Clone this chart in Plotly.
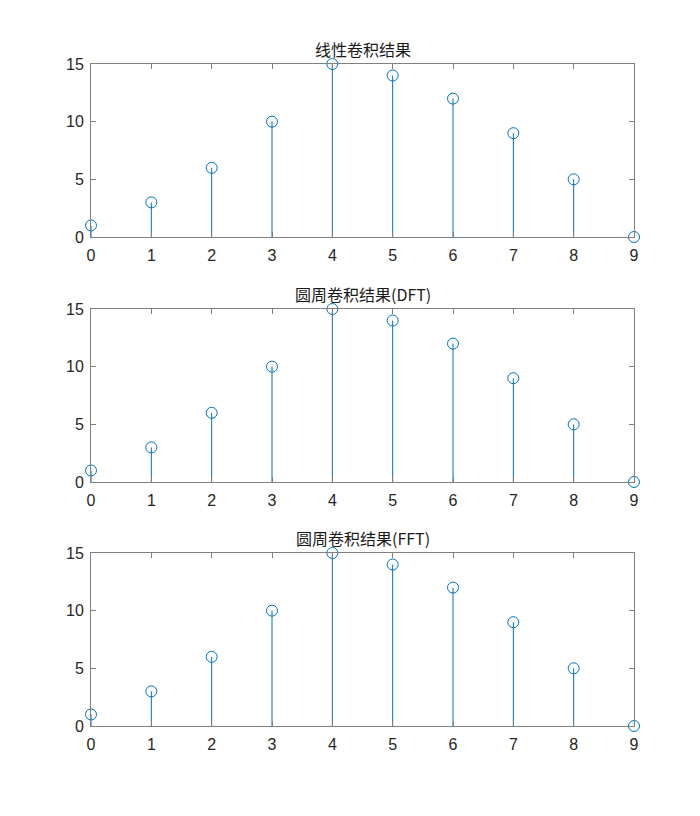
import plotly.graph_objects as go

n = [0, 1, 2, 3, 4, 5, 6, 7, 8, 9]
linear_conv = [1, 3, 6, 10, 15, 14, 12, 9, 5, 0]
circ_dft = [1, 3, 6, 10, 15, 14, 12, 9, 5, 0]
circ_fft = [1, 3, 6, 10, 15, 14, 12, 9, 5, 0]
titles = ["线性卷积结果", "圆周卷积结果(DFT)", "圆周卷积结果(FFT)"]
y_ticks = [0, 5, 10, 15]

W, H = 700, 816
xl, xr = 91, 634
rows = [(64, 237), (309, 482), (553, 726)]
color = "#0072BD"

fig = go.Figure()
series = [linear_conv, circ_dft, circ_fft]
for i, (vals, (top, bot)) in enumerate(zip(series, rows)):
    ax = "" if i == 0 else str(i + 1)
    sx, sy = [], []
    for xv, yv in zip(n, vals):
        sx += [xv, xv, None]
        sy += [0, yv, None]
    fig.add_trace(go.Scatter(x=sx, y=sy, mode="lines", line=dict(color=color, width=1),
                             xaxis="x" + ax, yaxis="y" + ax, showlegend=False, hoverinfo="skip",
                             cliponaxis=False))
    fig.add_trace(go.Scatter(x=n, y=vals, mode="markers",
                             marker=dict(symbol="circle-open", size=11, color=color, line=dict(width=1, color=color)),
                             xaxis="x" + ax, yaxis="y" + ax, showlegend=False, cliponaxis=False))
    common = dict(showgrid=False, zeroline=False, showline=True, linecolor="#808080", linewidth=1,
                  mirror="ticks", ticks="inside", ticklen=5, tickcolor="#808080", automargin=False,
                  tickfont=dict(family="Liberation Sans, Arial", size=16, color="#262626"))
    fig.update_layout(**{
        "xaxis" + ax: dict(domain=[xl / W, xr / W], range=[0, 9], tickvals=n,
                           anchor="y" + ax, ticklabelstandoff=4, **common),
        "yaxis" + ax: dict(domain=[1 - bot / H, 1 - top / H], range=[0, 15], tickvals=y_ticks,
                           anchor="x" + ax, ticklabelstandoff=3, **common),
    })
    fig.add_annotation(text=titles[i], xref="paper", yref="paper",
                       x=(xl + xr) / 2 / W, y=1 - top / H, yanchor="bottom", xanchor="center",
                       showarrow=False, yshift=1,
                       font=dict(family="Noto Sans CJK SC, Liberation Sans", size=16, color="#1a1a1a"))

fig.update_layout(width=W, height=H, margin=dict(l=0, r=0, t=0, b=0),
                  paper_bgcolor="white", plot_bgcolor="white")
fig.write_html("out.html")
